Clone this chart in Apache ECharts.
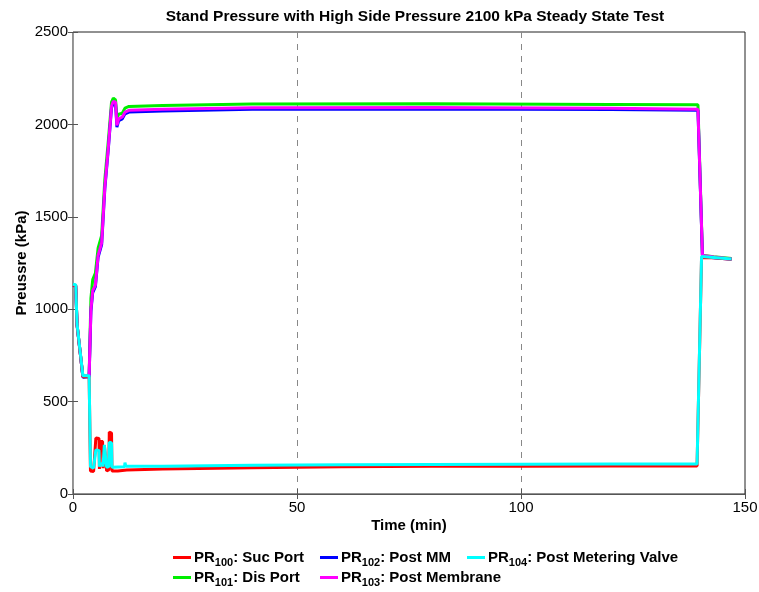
<!DOCTYPE html>
<html><head><meta charset="utf-8">
<script src="https://cdn.jsdelivr.net/npm/echarts@6/dist/echarts.min.js"></script>
<style>html,body{margin:0;padding:0;background:#fff}#c{width:759px;height:592px}</style>
</head><body><div id="c"></div>
<script>
var titleText = 'Stand Pressure with High Side Pressure 2100 kPa Steady State Test';
var xTicks = [0, 50, 100, 150];
var yTicks = [0, 500, 1000, 1500, 2000, 2500];
var names = ['PR100: Suc Port', 'PR101: Dis Port', 'PR102: Post MM', 'PR103: Post Membrane', 'PR104: Post Metering Valve'];
var colors = ['#ff0000', '#00ee00', '#0000ff', '#ff00ff', '#00ffff'];

var pr100 = [[0,1130],[0.6,1128],[0.9,915],[1.6,765],[2.2,635],[3.6,636],[3.9,125],[4.6,122],[5.0,128],[5.1,303],[5.8,300],[5.9,135],[6.0,286],[6.6,284],[6.7,140],[7.0,265],[7.4,262],[7.5,125],[8.0,130],[8.1,335],[8.6,330],[8.7,125],[10,125],[12,130],[20,135],[40,142],[60,148],[80,150],[100,150],[120,152],[139.3,152],[140.3,1280],[143,1278],[147,1270]];
var pr101 = [[0,1130],[0.6,1128],[0.9,918],[1.6,768],[2.2,638],[3.6,640],[4.0,1060],[4.4,1160],[5.0,1195],[5.6,1330],[6.4,1400],[7.1,1700],[7.9,1915],[8.6,2120],[9.0,2142],[9.5,2132],[9.8,2035],[10.2,2055],[11.0,2060],[11.6,2088],[12.5,2097],[20,2102],[40,2110],[80,2112],[120,2108],[139.5,2106],[140.5,1292],[143,1284],[147,1274]];
var pr102 = [[0,1128],[0.6,1126],[0.9,915],[1.6,765],[2.2,632],[3.6,634],[4.0,990],[4.4,1090],[5.0,1122],[5.6,1280],[6.4,1350],[7.1,1650],[7.9,1872],[8.6,2090],[9.0,2115],[9.5,2110],[9.8,1985],[10.2,2020],[11.0,2030],[11.6,2057],[12.5,2067],[20,2073],[40,2082],[80,2084],[120,2080],[139.5,2076],[140.5,1286],[143,1279],[147,1270]];
var pr103 = [[0,1130],[0.6,1128],[0.9,918],[1.6,768],[2.2,636],[3.6,638],[4.0,1000],[4.4,1100],[5.0,1130],[5.6,1290],[6.4,1360],[7.1,1660],[7.9,1880],[8.6,2100],[9.0,2125],[9.5,2120],[9.8,1995],[10.2,2030],[11.0,2040],[11.6,2066],[12.5,2076],[20,2082],[40,2090],[80,2091],[120,2087],[139.5,2082],[140.5,1290],[143,1282],[147,1272]];
var pr104 = [[0,1135],[0.6,1132],[0.9,920],[1.6,770],[2.2,640],[3.6,640],[3.9,148],[4.6,140],[5.0,148],[5.1,238],[5.8,236],[5.9,148],[6.0,160],[6.6,165],[6.7,148],[7.0,266],[7.4,262],[7.5,145],[8.0,148],[8.1,280],[8.6,276],[8.7,145],[11.5,148],[11.6,170],[11.8,150],[20,150],[40,155],[60,158],[80,160],[100,161],[120,162],[139.3,163],[140.3,1285],[143,1280],[147,1272]];

var seriesData = [pr100, pr101, pr102, pr103, pr104];
var drawOrder = [1, 2, 3, 0, 4];

var FONT = 'Liberation Sans';
var FS = 15;
function fmt(n){
  var m = n.match(/^PR(\d+)(.*)$/);
  return '{b|PR}{s|' + m[1] + '}{b|' + m[2] + '}';
}
var rich = {
  b: {fontFamily: FONT, fontSize: FS, fontWeight: 'bold', color: '#000', lineHeight: 15, verticalAlign: 'top'},
  s: {fontFamily: FONT, fontSize: 11, fontWeight: 'bold', color: '#000', lineHeight: 12, padding: [7,0,0,0], verticalAlign: 'top'}
};
function legend(left, top, data){
  return {left: left, top: top, orient: 'vertical', data: data, itemGap: 2, padding: 0, height: 60,
    icon: 'rect', itemWidth: 18, itemHeight: 3, formatter: fmt,
    textStyle: {rich: rich, padding: [0,0,0,-2]}};
}

var chart = echarts.init(document.getElementById('c'), null, {renderer: 'canvas'});
var series = drawOrder.map(function(i){
  return {name: names[i], type: 'line', data: seriesData[i], showSymbol: false, symbol: 'none',
    lineStyle: {width: 3, color: colors[i]}, itemStyle: {color: colors[i]}, animation: false};
});
function plain(v){ return String(v); }
chart.setOption({
  animation: false,
  backgroundColor: '#fff',
  title: {text: titleText, left: 410, top: 4, textAlign: 'center',
    textStyle: {fontFamily: FONT, fontSize: 15.5, fontWeight: 'bold', color: '#000'}},
  grid: {left: 73, right: 14, top: 32, bottom: 98, show: true, borderColor: '#222', borderWidth: 1,
    backgroundColor: 'transparent', containLabel: false, outerBoundsMode: 'none'},
  legend: [legend(173, 550, [names[0], names[1]]), legend(320, 550, [names[2], names[3]]), legend(467, 550, [names[4]])],
  xAxis: [{type: 'value', min: 0, max: 150, interval: 50, name: 'Time (min)', nameLocation: 'middle', nameGap: 24,
    nameMoveOverlap: false,
    nameTextStyle: {fontFamily: FONT, fontSize: FS, fontWeight: 'bold', color: '#000'},
    axisLine: {lineStyle: {color: '#555'}}, axisTick: {inside: true, length: 5, lineStyle: {color: '#555'}},
    axisLabel: {fontFamily: FONT, fontSize: FS, color: '#000', margin: 6, formatter: plain},
    splitLine: {show: true, showMinLine: false, showMaxLine: false, lineStyle: {type: [6, 6], color: '#888', width: 1}}},
   {type: 'value', min: 0, max: 150, interval: 50, position: 'top', axisLine: {show: false},
    axisTick: {inside: true, length: 5, lineStyle: {color: '#555'}}, axisLabel: {show: false}, splitLine: {show: false}}],
  yAxis: [{type: 'value', min: 0, max: 2500, interval: 500, name: 'Preussre (kPa)', nameLocation: 'middle', nameGap: 44,
    nameMoveOverlap: false,
    nameTextStyle: {fontFamily: FONT, fontSize: FS, fontWeight: 'bold', color: '#000'},
    axisLine: {show: true, lineStyle: {color: '#999'}}, axisTick: {show: true, inside: true, length: 5, lineStyle: {color: '#555'}},
    axisLabel: {fontFamily: FONT, fontSize: FS, color: '#000', margin: 5, formatter: plain}, splitLine: {show: false}},
   {type: 'value', min: 0, max: 2500, interval: 500, position: 'right', axisLine: {show: false},
    axisTick: {show: true, inside: true, length: 5, lineStyle: {color: '#555'}}, axisLabel: {show: false}, splitLine: {show: false}}],
  series: series
});
</script></body></html>
